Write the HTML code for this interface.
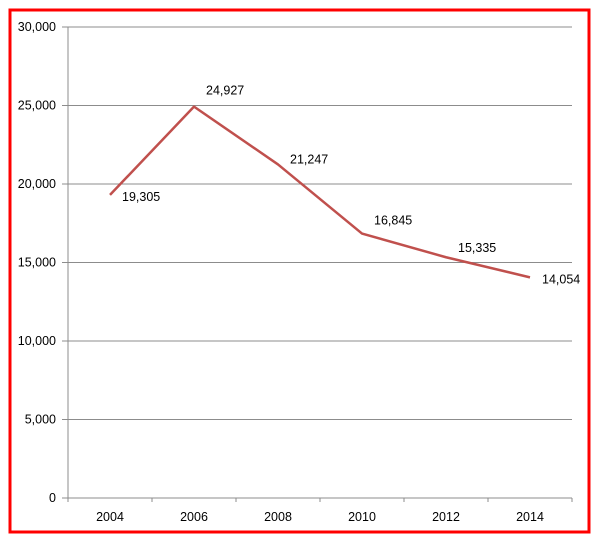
<!DOCTYPE html>
<html><head><meta charset="utf-8"><style>
body{margin:0;background:#fff;width:600px;height:543px;overflow:hidden}
svg{display:block;font-family:"Liberation Sans",sans-serif}
</style></head><body>
<svg id="c" width="600" height="543">
<rect x="10" y="10" width="579" height="522" fill="none" stroke="#ff0000" stroke-width="3"/>
<g id="grid"></g>
<g id="axes"></g>
<g id="series"></g>
</svg>
<script>
const categories=["2004","2006","2008","2010","2012","2014"];
const values=[19305,24927,21247,16845,15335,14054];
const valueLabels=["19,305","24,927","21,247","16,845","15,335","14,054"];
const yTicks=[0,5000,10000,15000,20000,25000,30000];
const yTickLabels=["0","5,000","10,000","15,000","20,000","25,000","30,000"];
const NS="http://www.w3.org/2000/svg";
const L=68,R=572,T=27,B=498,ymax=30000;
const bw=(R-L)/categories.length;
const x=i=>L+bw*(i+0.5);
const y=v=>B-(v/ymax)*(B-T);
function mk(tag,attrs,parent){const e=document.createElementNS(NS,tag);for(const k in attrs)e.setAttribute(k,attrs[k]);parent.appendChild(e);return e;}
const grid=document.getElementById('grid'),axes=document.getElementById('axes'),series=document.getElementById('series');
yTicks.forEach((t,i)=>{
  const ln=mk('line',{x1:62,x2:R,y1:y(t),y2:y(t),stroke:'#8c8c8c','stroke-width':1},grid);
  
  
  const tx=mk('text',{x:56,y:y(t)+4,'text-anchor':'end','font-size':12.5,fill:'#000'},axes);
  tx.textContent=yTickLabels[i];
  
  
});
const ya=mk('line',{x1:L,x2:L,y1:T,y2:B,stroke:'#8c8c8c','stroke-width':1},axes);


for(let i=0;i<=categories.length;i++){
  const tk=mk('line',{x1:L+bw*i,x2:L+bw*i,y1:B,y2:B+4,stroke:'#8c8c8c'},axes);
  
  
}
categories.forEach((c,i)=>{
  const tx=mk('text',{x:x(i),y:521,'text-anchor':'middle','font-size':12.5,fill:'#000'},axes);
  tx.textContent=c;
  
  
});
const pl=mk('polyline',{points:values.map((v,i)=>x(i)+','+y(v)).join(' '),fill:'none',stroke:'#c0504d','stroke-width':2.5,'stroke-linejoin':'round'},series);


const dy=[6,-12,-1,-9,-5,6];
values.forEach((v,i)=>{
  const tx=mk('text',{x:x(i)+12,y:y(v)+dy[i],'font-size':12.5,fill:'#000'},series);
  tx.textContent=valueLabels[i];
  
  
});
</script>
</body></html>
